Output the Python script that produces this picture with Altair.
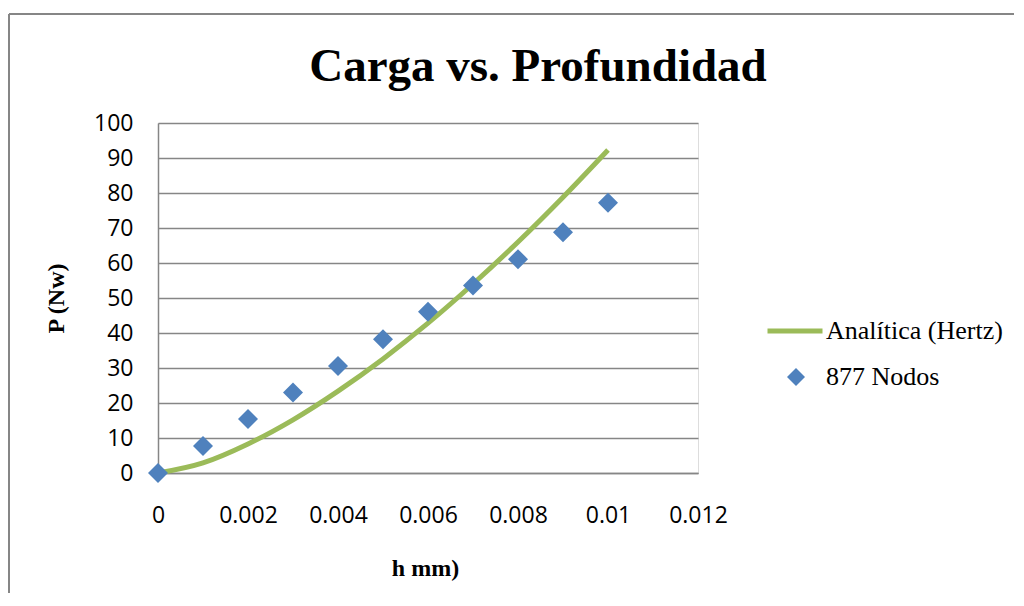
import altair as alt
import pandas as pd

# Data
h_vals = [0.0, 0.001, 0.002, 0.003, 0.004, 0.005, 0.006, 0.007, 0.008, 0.009, 0.010]
hertz_vals = [0.0, 2.9, 8.3, 15.2, 23.4, 32.6, 42.8, 54.0, 66.0, 78.8, 92.3]
nodos_vals = [0.0, 7.7, 15.4, 23.0, 30.6, 38.2, 46.1, 53.6, 61.1, 68.8, 77.2]
x_ticks = [0, 0.002, 0.004, 0.006, 0.008, 0.01, 0.012]
y_ticks = [0, 10, 20, 30, 40, 50, 60, 70, 80, 90, 100]
series_line = "Analítica (Hertz)"
series_pts = "877 Nodos"

df_line = pd.DataFrame({"h": h_vals, "P": hertz_vals, "serie": series_line})
df_pts = pd.DataFrame({"h": h_vals, "P": nodos_vals, "serie": series_pts})

GRAY = "#868686"
GREEN = "#9BBB59"
BLUE = "#4F81BD"

x_enc = alt.X(
    "h:Q",
    scale=alt.Scale(domain=[0, 0.012], nice=False, zero=False),
    axis=alt.Axis(
        values=x_ticks, format="~g", grid=False, ticks=False, tickSize=0,
        labelFlush=False, labelOverlap=False,
        labelPadding=31, labelFont="Open Sans", labelFontSize=23, labelColor="#000000",
        domainColor=GRAY, domainWidth=1.5,
        title="h mm)", titleFont="Liberation Serif", titleFontSize=24, titleFontWeight="bold",
        titleColor="#000000", titleBaseline="alphabetic", titleX=267, titleY=102,
    ),
)
y_enc = alt.Y(
    "P:Q",
    scale=alt.Scale(domain=[0, 100], nice=False),
    axis=alt.Axis(
        values=y_ticks, grid=True, gridColor=GRAY, gridWidth=1.5, ticks=False, tickSize=0,
        labelPadding=25, labelFont="Open Sans", labelFontSize=23, labelColor="#000000",
        domainColor=GRAY, domainWidth=1.5,
        title="P (Nw)", titleFont="Liberation Serif", titleFontSize=24, titleFontWeight="bold",
        titleColor="#000000", titleBaseline="alphabetic", titleAngle=270, titleX=-95, titleY=175,
    ),
)

line = alt.Chart(df_line).mark_line(strokeWidth=5, interpolate="monotone").encode(
    x=x_enc,
    y=y_enc,
    color=alt.Color(
        "serie:N",
        scale=alt.Scale(domain=[series_line], range=[GREEN]),
        legend=alt.Legend(
            title=None, orient="none", legendX=607, legendY=178, padding=0,
            symbolType="stroke", symbolSize=3025, symbolStrokeWidth=5,
            labelFont="Liberation Serif", labelFontSize=26, labelColor="#000000",
            labelOffset=1, labelLimit=400,
        ),
    ),
)

pts = alt.Chart(df_pts).mark_point(shape="diamond", filled=True, size=400, opacity=1).encode(
    x=x_enc,
    y=y_enc,
    color=alt.Color(
        "serie:N",
        scale=alt.Scale(domain=[series_pts], range=[BLUE]),
        legend=alt.Legend(
            title=None, orient="none", legendX=625, legendY=241, padding=0,
            symbolType="diamond", symbolSize=324, symbolOpacity=1,
            labelFont="Liberation Serif", labelFontSize=26, labelColor="#000000",
            labelOffset=17, labelLimit=400,
        ),
    ),
)

frame_df = pd.DataFrame({"k": [0]})
frame_left = alt.Chart(frame_df).mark_rule(color=GRAY, strokeWidth=2).encode(
    x=alt.value(-149), y=alt.value(-109), y2=alt.value(470)
)
frame_top = alt.Chart(frame_df).mark_rule(color=GRAY, strokeWidth=2).encode(
    x=alt.value(-149), x2=alt.value(860), y=alt.value(-109)
)

chart = (
    alt.layer(frame_left, frame_top, line, pts)
    .resolve_scale(color="independent")
    .resolve_legend(color="independent")
    .properties(
        width=540,
        height=350,
        padding={"left": 150, "top": 115, "right": 316, "bottom": 123},
        autosize=alt.AutoSizeParams(type="none"),
        title=alt.TitleParams(
            "Carga vs. Profundidad", font="Liberation Serif", fontSize=47, fontWeight="bold",
            color="#000000", anchor="middle", frame="group", dx=110, offset=0, dy=115,
            baseline="alphabetic",
        ),
    )
    .configure_view(stroke=None)
    .configure(background="#ffffff")
)

chart.save("out.html", embed_options={"renderer": "svg", "actions": False})
